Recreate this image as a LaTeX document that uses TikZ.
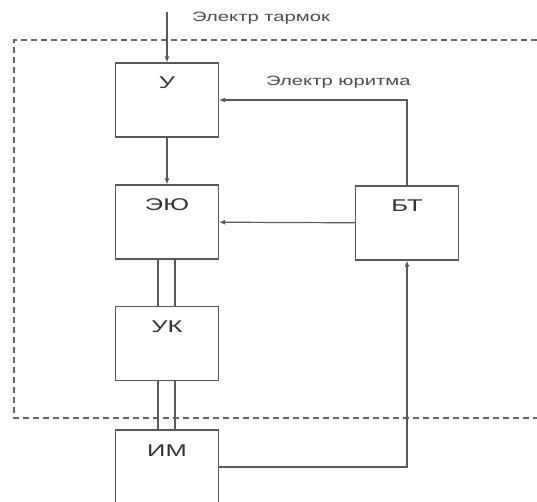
\documentclass[tikz,border=0pt]{standalone}
\usepackage{fontspec}
\setmainfont{Liberation Sans}
\usetikzlibrary{arrows.meta,positioning}
\newcommand\widetxt[1]{\scalebox{1.5}[1]{#1}}

\begin{document}
\begin{tikzpicture}[x=1pt,y=-1pt,>={Latex[length=6pt,width=5pt]},
  blk/.style={draw=black!65,line width=1.2pt,minimum width=103pt,minimum height=74pt,
    inner ysep=0pt,text height=26pt,text depth=48pt,text=black!80,font=\fontsize{17}{17}\selectfont},
  lnk/.style={draw=black!65,line width=1.2pt},
  lbl/.style={anchor=west,inner sep=0pt,text=black!70,font=\fontsize{13.5}{14}\selectfont},
  frame/.style={draw=black!60,line width=1.2pt,dash pattern=on 6pt off 4pt}]
  \useasboundingbox (0,0) rectangle (537,502);
  \clip (0,0) rectangle (537,502);
  % dashed border
  \draw[frame] (537,40) -- (14,40) -- (14,418) -- (537,418);
  % blocks
  \node[blk] (u) at (167,100) {\widetxt{У}};
  \node[blk] (eyu) at (167,222) {\widetxt{ЭЮ}};
  \node[blk] (uk) at (167,343.5) {\widetxt{УК}};
  \node[blk] (im) at (167,467) {\widetxt{ИМ}};
  \node[blk] (bt) at (407,223) {\widetxt{БТ}};
  \coordinate (src) at (167,12);
  \node[lbl] (lnet) at (192,18) {\widetxt{Электр тармок}};
  \node[lbl] (ldrv) at (266,82) {\widetxt{Электр юритма}};
  % connectors
  \draw[lnk,->] (src) -- (u);
  \draw[lnk,->] (u) -- (eyu);
  \draw[lnk,->] (bt) -- (eyu);
  \draw[lnk,->] (bt.north) |- (u.east);
  \draw[lnk,->] (im.east) -| (bt.south);
  \draw[lnk] ([xshift=-9pt]eyu.south) -- ([xshift=-9pt]uk.north);
  \draw[lnk] ([xshift=8pt]eyu.south) -- ([xshift=8pt]uk.north);
  \draw[lnk] ([xshift=-9pt]uk.south) -- ([xshift=-9pt]im.north);
  \draw[lnk] ([xshift=8pt]uk.south) -- ([xshift=8pt]im.north);
\end{tikzpicture}
\end{document}
